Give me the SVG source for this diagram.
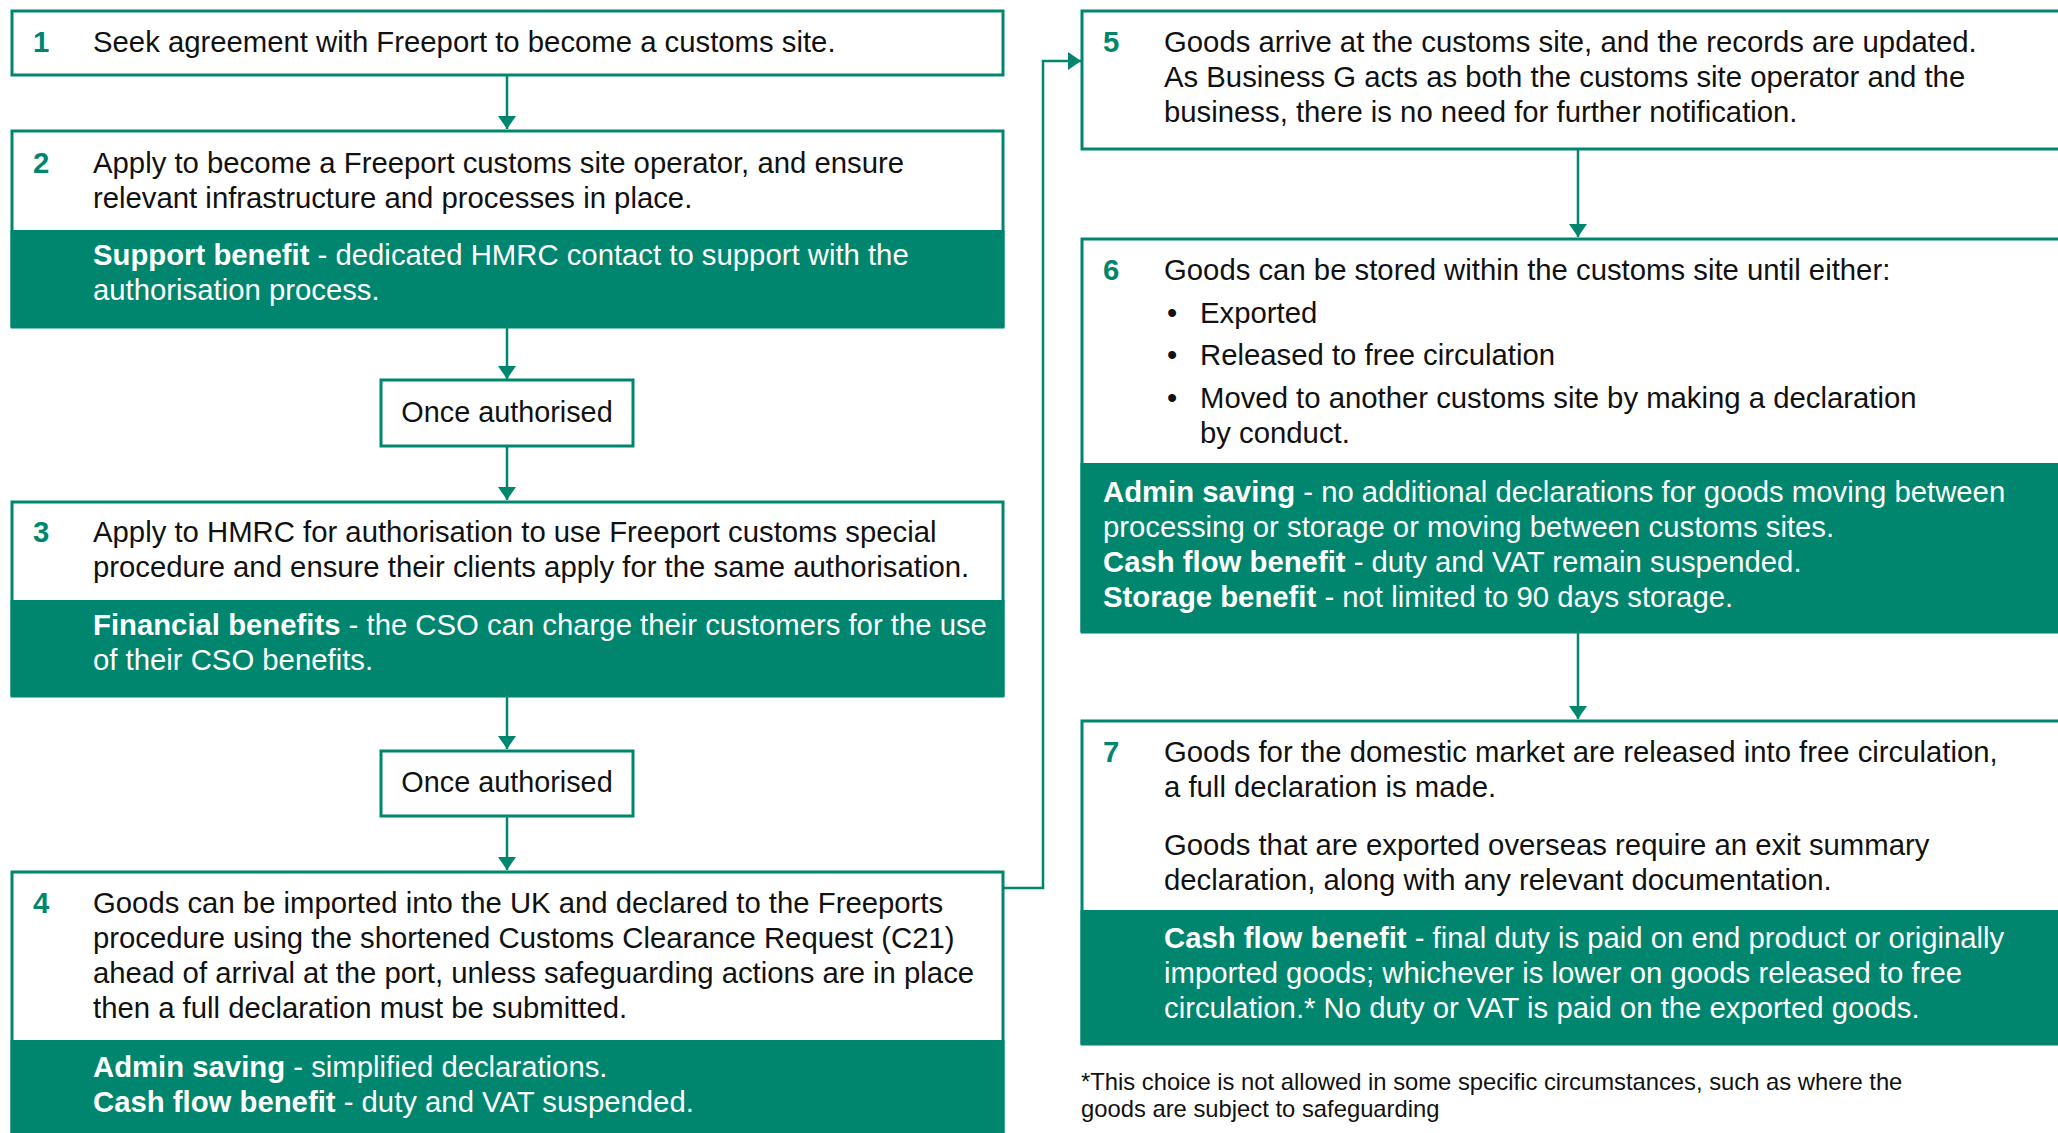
<svg xmlns="http://www.w3.org/2000/svg" width="2058" height="1133" viewBox="0 0 2058 1133">
<defs>
<style>
.box{fill:#fff;stroke:#00866E;stroke-width:3}
.band{fill:#00866E}
.t{font-family:"Liberation Sans",Arial,sans-serif;font-size:29.3px;fill:#111}
.n{fill:#00866E;font-weight:bold}
.w{fill:#fff}
.b{font-weight:bold}
.fn{font-size:23.8px}
.mid{text-anchor:middle;font-size:28.8px}
.conn{fill:none;stroke:#00866E;stroke-width:2.5}
</style>
<marker id="ah" markerUnits="userSpaceOnUse" markerWidth="13" markerHeight="18" viewBox="0 0 13 18" refX="13" refY="9" orient="auto">
<path d="M0,0 L13,9 L0,18 z" fill="#00866E"/>
</marker>
</defs>
<rect width="2058" height="1133" fill="#fff"/>
<g id="connectors">
<path class="conn" d="M507,75 V129" marker-end="url(#ah)"/>
<path class="conn" d="M507,327 V379" marker-end="url(#ah)"/>
<path class="conn" d="M507,446 V500" marker-end="url(#ah)"/>
<path class="conn" d="M507,696 V749" marker-end="url(#ah)"/>
<path class="conn" d="M507,816 V870" marker-end="url(#ah)"/>
<path class="conn" d="M1003,888 H1043 V61 H1081" marker-end="url(#ah)"/>
<path class="conn" d="M1578,149 V237" marker-end="url(#ah)"/>
<path class="conn" d="M1578,632 V719" marker-end="url(#ah)"/>
</g>
<g id="step1">
<rect class="box" x="12" y="11" width="991" height="64"/>
<text class="t n" x="33" y="52">1</text>
<text class="t" x="93" y="52">Seek agreement with Freeport to become a customs site.</text>
</g>
<g id="step2">
<rect class="box" x="12" y="131" width="991" height="196"/>
<rect class="band" x="10.5" y="230" width="994" height="97"/>
<text class="t n" x="33" y="173">2</text>
<text class="t" x="93" y="173">Apply to become a Freeport customs site operator, and ensure</text>
<text class="t" x="93" y="208">relevant infrastructure and processes in place.</text>
<text class="t w" x="93" y="265"><tspan class="b">Support benefit</tspan> - dedicated HMRC contact to support with the</text>
<text class="t w" x="93" y="300">authorisation process.</text>
</g>
<g id="once1">
<rect class="box" x="381" y="380" width="252" height="66"/>
<text class="t mid" x="507" y="422">Once authorised</text>
</g>
<g id="step3">
<rect class="box" x="12" y="502" width="991" height="194"/>
<rect class="band" x="10.5" y="600" width="994" height="96"/>
<text class="t n" x="33" y="542">3</text>
<text class="t" x="93" y="542">Apply to HMRC for authorisation to use Freeport customs special</text>
<text class="t" x="93" y="577">procedure and ensure their clients apply for the same authorisation.</text>
<text class="t w" x="93" y="635"><tspan class="b">Financial benefits</tspan> - the CSO can charge their customers for the use</text>
<text class="t w" x="93" y="670">of their CSO benefits.</text>
</g>
<g id="once2">
<rect class="box" x="381" y="751" width="252" height="65"/>
<text class="t mid" x="507" y="792">Once authorised</text>
</g>
<g id="step4">
<rect class="box" x="12" y="872" width="991" height="290"/>
<rect class="band" x="10.5" y="1040" width="994" height="100"/>
<text class="t n" x="33" y="913">4</text>
<text class="t" x="93" y="913">Goods can be imported into the UK and declared to the Freeports</text>
<text class="t" x="93" y="948">procedure using the shortened Customs Clearance Request (C21)</text>
<text class="t" x="93" y="983">ahead of arrival at the port, unless safeguarding actions are in place</text>
<text class="t" x="93" y="1018">then a full declaration must be submitted.</text>
<text class="t w" x="93" y="1077"><tspan class="b">Admin saving</tspan> - simplified declarations.</text>
<text class="t w" x="93" y="1112"><tspan class="b">Cash flow benefit</tspan> - duty and VAT suspended.</text>
</g>
<g id="step5">
<rect class="box" x="1082" y="11" width="1000" height="138"/>
<text class="t n" x="1103" y="52">5</text>
<text class="t" x="1164" y="52">Goods arrive at the customs site, and the records are updated.</text>
<text class="t" x="1164" y="87">As Business G acts as both the customs site operator and the</text>
<text class="t" x="1164" y="122">business, there is no need for further notification.</text>
</g>
<g id="step6">
<rect class="box" x="1082" y="239" width="1000" height="393"/>
<rect class="band" x="1080.5" y="463" width="1000" height="169"/>
<text class="t n" x="1103" y="280">6</text>
<text class="t" x="1164" y="280">Goods can be stored within the customs site until either:</text>
<text class="t" x="1167" y="323">•</text>
<text class="t" x="1200" y="323">Exported</text>
<text class="t" x="1167" y="365">•</text>
<text class="t" x="1200" y="365">Released to free circulation</text>
<text class="t" x="1167" y="408">•</text>
<text class="t" x="1200" y="408">Moved to another customs site by making a declaration</text>
<text class="t" x="1200" y="443">by conduct.</text>
<text class="t w" x="1103" y="502"><tspan class="b">Admin saving</tspan> - no additional declarations for goods moving between</text>
<text class="t w" x="1103" y="537">processing or storage or moving between customs sites.</text>
<text class="t w" x="1103" y="572"><tspan class="b">Cash flow benefit</tspan> - duty and VAT remain suspended.</text>
<text class="t w" x="1103" y="607"><tspan class="b">Storage benefit</tspan> - not limited to 90 days storage.</text>
</g>
<g id="step7">
<rect class="box" x="1082" y="721" width="1000" height="323"/>
<rect class="band" x="1080.5" y="910" width="1000" height="134"/>
<text class="t n" x="1103" y="762">7</text>
<text class="t" x="1164" y="762">Goods for the domestic market are released into free circulation,</text>
<text class="t" x="1164" y="797">a full declaration is made.</text>
<text class="t" x="1164" y="855">Goods that are exported overseas require an exit summary</text>
<text class="t" x="1164" y="890">declaration, along with any relevant documentation.</text>
<text class="t w" x="1164" y="948"><tspan class="b">Cash flow benefit</tspan> - final duty is paid on end product or originally</text>
<text class="t w" x="1164" y="983">imported goods; whichever is lower on goods released to free</text>
<text class="t w" x="1164" y="1018">circulation.* No duty or VAT is paid on the exported goods.</text>
</g>
<g id="footnote">
<text class="t fn" x="1081" y="1090">*This choice is not allowed in some specific circumstances, such as where the</text>
<text class="t fn" x="1081" y="1117">goods are subject to safeguarding</text>
</g>
</svg>
